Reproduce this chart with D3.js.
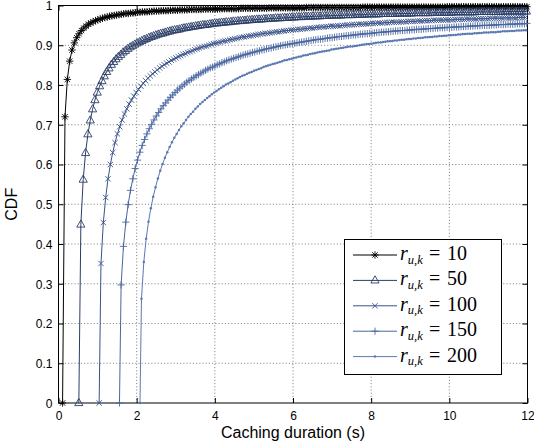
<!DOCTYPE html>
<html>
<head>
<meta charset="utf-8">
<script src="https://cdn.jsdelivr.net/npm/d3@7"></script>
<style>
  html, body { margin: 0; padding: 0; background: #ffffff; }
  svg { display: block; }
</style>
</head>
<body>
<svg id="chart" width="534" height="446"></svg>
<script>
// ---------------- data ----------------
const rValues = [10, 50, 100, 150, 200];
const seriesLabels = ["10", "50", "100", "150", "200"];
// caching duration where each CDF leaves 0 (s)
const startTimes = [0.104, 0.52, 1.04, 1.56, 2.085];
// time of the first plotted sample after the start, and the sampling step (s)
const firstSampleTimes = [0.166, 0.572, 1.087, 1.602, 2.123];
const sampleStep = 0.06;

const cdf10 = [
0.720,0.814,0.860,0.888,0.906,0.919,0.929,0.937,0.943,0.948,
0.953,0.956,0.959,0.962,0.964,0.966,0.968,0.970,0.971,0.973,
0.974,0.975,0.976,0.977,0.978,0.979,0.980,0.980,0.981,0.981,
0.982,0.983,0.983,0.984,0.984,0.984,0.985,0.985,0.986,0.986,
0.986,0.987,0.987,0.987,0.987,0.988,0.988,0.988,0.988,0.989,
0.989,0.989,0.989,0.990,0.990,0.990,0.990,0.990,0.990,0.991,
0.991,0.991,0.991,0.991,0.991,0.991,0.992,0.992,0.992,0.992,
0.992,0.992,0.992,0.992,0.992,0.993,0.993,0.993,0.993,0.993,
0.993,0.993,0.993,0.993,0.993,0.993,0.993,0.994,0.994,0.994,
0.994,0.994,0.994,0.994,0.994,0.994,0.994,0.994,0.994,0.994,
0.994,0.994,0.994,0.995,0.995,0.995,0.995,0.995,0.995,0.995,
0.995,0.995,0.995,0.995,0.995,0.995,0.995,0.995,0.995,0.995,
0.995,0.995,0.995,0.995,0.995,0.995,0.995,0.996,0.996,0.996,
0.996,0.996,0.996,0.996,0.996,0.996,0.996,0.996,0.996,0.996,
0.996,0.996,0.996,0.996,0.996,0.996,0.996,0.996,0.996,0.996,
0.996,0.996,0.996,0.996,0.996,0.996,0.996,0.996,0.996,0.996,
0.996,0.996,0.996,0.997,0.997,0.997,0.997,0.997,0.997,0.997,
0.997,0.997,0.997,0.997,0.997,0.997,0.997,0.997,0.997,0.997,
0.997,0.997,0.997,0.997,0.997,0.997,0.997,0.997,0.997,0.997,
0.997,0.997,0.997,0.997,0.997,0.997,0.997,0.997
];

const cdf50 = [
0.449,0.562,0.629,0.676,0.711,0.739,0.762,0.781,0.797,0.810,
0.822,0.833,0.842,0.851,0.858,0.865,0.871,0.876,0.882,0.886,
0.891,0.895,0.898,0.902,0.905,0.908,0.911,0.914,0.916,0.919,
0.921,0.923,0.925,0.927,0.929,0.930,0.932,0.934,0.935,0.937,
0.938,0.939,0.940,0.942,0.943,0.944,0.945,0.946,0.947,0.948,
0.949,0.950,0.951,0.951,0.952,0.953,0.954,0.955,0.955,0.956,
0.957,0.957,0.958,0.958,0.959,0.960,0.960,0.961,0.961,0.962,
0.962,0.963,0.963,0.964,0.964,0.965,0.965,0.965,0.966,0.966,
0.967,0.967,0.967,0.968,0.968,0.968,0.969,0.969,0.969,0.970,
0.970,0.970,0.971,0.971,0.971,0.972,0.972,0.972,0.972,0.973,
0.973,0.973,0.973,0.974,0.974,0.974,0.974,0.975,0.975,0.975,
0.975,0.975,0.976,0.976,0.976,0.976,0.976,0.977,0.977,0.977,
0.977,0.977,0.978,0.978,0.978,0.978,0.978,0.978,0.979,0.979,
0.979,0.979,0.979,0.979,0.979,0.980,0.980,0.980,0.980,0.980,
0.980,0.980,0.981,0.981,0.981,0.981,0.981,0.981,0.981,0.981,
0.982,0.982,0.982,0.982,0.982,0.982,0.982,0.982,0.982,0.983,
0.983,0.983,0.983,0.983,0.983,0.983,0.983,0.983,0.983,0.984,
0.984,0.984,0.984,0.984,0.984,0.984,0.984,0.984,0.984,0.984,
0.985,0.985,0.985,0.985,0.985,0.985,0.985,0.985,0.985,0.985,
0.985
];

const cdf100 = [
0.351,0.454,0.517,0.564,0.600,0.630,0.655,0.677,0.695,0.712,
0.727,0.740,0.752,0.762,0.772,0.781,0.789,0.797,0.804,0.811,
0.817,0.823,0.828,0.833,0.838,0.843,0.847,0.851,0.855,0.858,
0.862,0.865,0.868,0.871,0.874,0.877,0.879,0.882,0.884,0.886,
0.889,0.891,0.893,0.895,0.897,0.898,0.900,0.902,0.904,0.905,
0.907,0.908,0.910,0.911,0.912,0.914,0.915,0.916,0.917,0.919,
0.920,0.921,0.922,0.923,0.924,0.925,0.926,0.927,0.928,0.929,
0.930,0.930,0.931,0.932,0.933,0.934,0.934,0.935,0.936,0.937,
0.937,0.938,0.939,0.939,0.940,0.940,0.941,0.942,0.942,0.943,
0.943,0.944,0.945,0.945,0.946,0.946,0.947,0.947,0.948,0.948,
0.948,0.949,0.949,0.950,0.950,0.951,0.951,0.952,0.952,0.952,
0.953,0.953,0.953,0.954,0.954,0.955,0.955,0.955,0.956,0.956,
0.956,0.957,0.957,0.957,0.958,0.958,0.958,0.958,0.959,0.959,
0.959,0.960,0.960,0.960,0.960,0.961,0.961,0.961,0.962,0.962,
0.962,0.962,0.963,0.963,0.963,0.963,0.963,0.964,0.964,0.964,
0.964,0.965,0.965,0.965,0.965,0.965,0.966,0.966,0.966,0.966,
0.966,0.967,0.967,0.967,0.967,0.967,0.968,0.968,0.968,0.968,
0.968,0.968,0.969,0.969,0.969,0.969,0.969,0.969,0.970,0.970,
0.970,0.970
];

const cdf150 = [
0.297,0.394,0.455,0.499,0.535,0.564,0.590,0.611,0.631,0.648,
0.663,0.677,0.690,0.701,0.712,0.722,0.731,0.740,0.748,0.755,
0.762,0.769,0.775,0.781,0.787,0.792,0.797,0.802,0.807,0.811,
0.815,0.819,0.823,0.826,0.830,0.833,0.837,0.840,0.843,0.845,
0.848,0.851,0.853,0.856,0.858,0.861,0.863,0.865,0.867,0.869,
0.871,0.873,0.875,0.877,0.878,0.880,0.882,0.883,0.885,0.886,
0.888,0.889,0.891,0.892,0.893,0.895,0.896,0.897,0.899,0.900,
0.901,0.902,0.903,0.904,0.905,0.906,0.907,0.908,0.909,0.910,
0.911,0.912,0.913,0.914,0.915,0.915,0.916,0.917,0.918,0.919,
0.919,0.920,0.921,0.922,0.922,0.923,0.924,0.924,0.925,0.926,
0.926,0.927,0.928,0.928,0.929,0.929,0.930,0.930,0.931,0.932,
0.932,0.933,0.933,0.934,0.934,0.935,0.935,0.936,0.936,0.937,
0.937,0.937,0.938,0.938,0.939,0.939,0.940,0.940,0.940,0.941,
0.941,0.942,0.942,0.942,0.943,0.943,0.944,0.944,0.944,0.945,
0.945,0.945,0.946,0.946,0.946,0.947,0.947,0.947,0.948,0.948,
0.948,0.949,0.949,0.949,0.950,0.950,0.950,0.950,0.951,0.951,
0.951,0.952,0.952,0.952,0.952,0.953,0.953,0.953,0.953,0.954,
0.954,0.954,0.954,0.955
];

const cdf200 = [
0.262,0.355,0.413,0.456,0.490,0.519,0.543,0.565,0.584,0.601,
0.617,0.631,0.644,0.656,0.667,0.677,0.687,0.696,0.704,0.712,
0.720,0.727,0.733,0.740,0.746,0.752,0.757,0.762,0.767,0.772,
0.777,0.781,0.785,0.789,0.793,0.797,0.801,0.804,0.807,0.811,
0.814,0.817,0.820,0.823,0.825,0.828,0.831,0.833,0.836,0.838,
0.840,0.842,0.845,0.847,0.849,0.851,0.853,0.854,0.856,0.858,
0.860,0.862,0.863,0.865,0.866,0.868,0.869,0.871,0.872,0.874,
0.875,0.876,0.878,0.879,0.880,0.882,0.883,0.884,0.885,0.886,
0.887,0.889,0.890,0.891,0.892,0.893,0.894,0.895,0.896,0.897,
0.897,0.898,0.899,0.900,0.901,0.902,0.903,0.903,0.904,0.905,
0.906,0.907,0.907,0.908,0.909,0.910,0.910,0.911,0.912,0.912,
0.913,0.914,0.914,0.915,0.916,0.916,0.917,0.917,0.918,0.918,
0.919,0.920,0.920,0.921,0.921,0.922,0.922,0.923,0.923,0.924,
0.924,0.925,0.925,0.926,0.926,0.927,0.927,0.928,0.928,0.929,
0.929,0.929,0.930,0.930,0.931,0.931,0.932,0.932,0.932,0.933,
0.933,0.933,0.934,0.934,0.935,0.935,0.935,0.936,0.936,0.936,
0.937,0.937,0.937,0.938,0.938
];

const xTicks = [0, 2, 4, 6, 8, 10, 12];
const xTickLabels = ["0", "2", "4", "6", "8", "10", "12"];
const yTicks = [0, 0.1, 0.2, 0.3, 0.4, 0.5, 0.6, 0.7, 0.8, 0.9, 1];
const yTickLabels = ["0", "0.1", "0.2", "0.3", "0.4", "0.5", "0.6", "0.7", "0.8", "0.9", "1"];
const xTitle = "Caching duration (s)";
const yTitle = "CDF";

// ---------------- styling ----------------
const cdfSeries = [cdf10, cdf50, cdf100, cdf150, cdf200];
const seriesColors = ["#000000", "#2b3d66", "#3a528a", "#4a66a0", "#5b79b2"];
const markerKinds = ["star", "triangle", "cross", "plus", "dot"];

const svg = d3.select("#chart");
const W = 534, H = 446;
const plot = { left: 58.5, right: 527.5, top: 5.5, bottom: 403 };
svg.append("rect").attr("width", W).attr("height", H).attr("fill", "#fff");

const x = d3.scaleLinear().domain([0, 12]).range([plot.left, plot.right]);
const y = d3.scaleLinear().domain([0, 1]).range([plot.bottom, plot.top]);

const sansFont = "'Liberation Sans', Arial, Helvetica, sans-serif";
const serifFont = "'Liberation Serif', 'Times New Roman', serif";

// grid
const grid = svg.append("g").attr("class", "grid")
  .attr("stroke", "#6b6b6b").attr("stroke-width", 0.9).attr("stroke-dasharray", "1,2.2");
grid.selectAll("line.gx").data(xTicks.filter(t => t > 0 && t < 12)).join("line")
  .attr("x1", d => x(d)).attr("x2", d => x(d)).attr("y1", plot.top).attr("y2", plot.bottom);
grid.selectAll("line.gy").data(yTicks.filter(t => t > 0 && t < 1)).join("line")
  .attr("y1", d => y(d)).attr("y2", d => y(d)).attr("x1", plot.left).attr("x2", plot.right);

// axes (ticks pointing inwards, mirrored on top/right)
function styleAxis(g) {
  g.select(".domain").remove();
  g.selectAll(".tick line").attr("stroke", "#000").attr("stroke-width", 1);
  g.selectAll(".tick text").attr("fill", "#000").attr("font-family", sansFont).attr("font-size", 12);
}
const xLab = d => xTickLabels[xTicks.indexOf(d)];
const yLab = d => yTickLabels[yTicks.indexOf(d)];

svg.append("g").attr("transform", `translate(0,${plot.bottom})`)
  .call(d3.axisBottom(x).tickValues(xTicks).tickFormat(xLab).tickSize(-5).tickPadding(8))
  .call(styleAxis);
svg.append("g").attr("transform", `translate(0,${plot.top})`)
  .call(d3.axisTop(x).tickValues(xTicks).tickFormat("").tickSize(-5))
  .call(styleAxis);
svg.append("g").attr("transform", `translate(${plot.left},0)`)
  .call(d3.axisLeft(y).tickValues(yTicks).tickFormat(yLab).tickSize(-5).tickPadding(6))
  .call(styleAxis)
  .call(g => g.selectAll(".tick text").attr("dy", "0.37em"));
svg.append("g").attr("transform", `translate(${plot.right},0)`)
  .call(d3.axisRight(y).tickValues(yTicks).tickFormat("").tickSize(-5))
  .call(styleAxis);

// frame
svg.append("rect")
  .attr("x", plot.left).attr("y", plot.top)
  .attr("width", plot.right - plot.left).attr("height", plot.bottom - plot.top)
  .attr("fill", "none").attr("stroke", "#000").attr("stroke-width", 1);

// axis titles
svg.append("text").attr("x", (plot.left + plot.right) / 2).attr("y", 437.5)
  .attr("text-anchor", "middle").attr("font-family", sansFont).attr("font-size", 16)
  .text(xTitle);
svg.append("text").attr("transform", `translate(17,${(plot.top + plot.bottom) / 2}) rotate(-90)`)
  .attr("text-anchor", "middle").attr("font-family", sansFont).attr("font-size", 16)
  .text(yTitle);

// marker shapes
function markerPath(kind) {
  switch (kind) {
    case "star": return "M-3.7,0H3.7M0,-3.7V3.7M-2.7,-2.7L2.7,2.7M-2.7,2.7L2.7,-2.7";
    case "triangle": return "M0,-4.6L4.1,2.6L-4.1,2.6Z";
    case "cross": return "M-2.7,-2.7L2.7,2.7M-2.7,2.7L2.7,-2.7";
    case "plus": return "M-3.6,0H3.6M0,-3.6V3.6";
    default: return "";
  }
}
function drawMarkers(g, pts, kind, color) {
  if (kind === "dot") {
    g.selectAll("circle").data(pts).join("circle")
      .attr("cx", d => x(d[0])).attr("cy", d => y(d[1])).attr("r", 1.25)
      .attr("fill", color).attr("stroke", "none");
  } else {
    g.selectAll("path").data(pts).join("path")
      .attr("transform", d => `translate(${x(d[0])},${y(d[1])})`)
      .attr("d", markerPath(kind))
      .attr("fill", "none").attr("stroke", color).attr("stroke-width", 0.9);
  }
}

const line = d3.line().x(d => x(d[0])).y(d => y(d[1]));

const seriesData = rValues.map((r, i) => {
  const pts = [[startTimes[i], 0]].concat(
    cdfSeries[i].map((v, k) => [firstSampleTimes[i] + k * sampleStep, v]));
  return { r, pts, color: seriesColors[i], kind: markerKinds[i], label: seriesLabels[i] };
});

seriesData.forEach(s => {
  const g = svg.append("g").attr("class", "series");
  g.append("path").datum(s.pts).attr("d", line)
    .attr("fill", "none").attr("stroke", s.color).attr("stroke-width", 1);
  drawMarkers(g.append("g"), s.pts, s.kind, s.color);
});

// legend
const leg = { x: 344.5, y: 239.5, w: 157, h: 135 };
const lg = svg.append("g");
lg.append("rect").attr("x", leg.x).attr("y", leg.y).attr("width", leg.w).attr("height", leg.h)
  .attr("fill", "#fff").attr("stroke", "#000").attr("stroke-width", 1);
const rowY = i => 255 + i * 25.4;
seriesData.forEach((s, i) => {
  const yy = rowY(i);
  const row = lg.append("g");
  row.append("line").attr("x1", 353).attr("x2", 397).attr("y1", yy).attr("y2", yy)
    .attr("stroke", s.color).attr("stroke-width", 1);
  const mg = row.append("g").attr("transform", `translate(375,${yy})`);
  if (s.kind === "dot") {
    mg.append("circle").attr("r", 1.25).attr("fill", s.color);
  } else {
    mg.append("path").attr("d", markerPath(s.kind)).attr("fill", "none")
      .attr("stroke", s.color).attr("stroke-width", 0.9);
  }
  const t = row.append("text").attr("x", 400).attr("y", yy + 5)
    .attr("font-family", serifFont).attr("font-size", 20).attr("fill", "#000");
  t.append("tspan").attr("font-style", "italic").text("r");
  t.append("tspan").attr("font-style", "italic").attr("font-size", 12.5).attr("dy", 3.5).text("u,k");
  t.append("tspan").attr("x", 429).attr("dy", -3.5).text("=");
  t.append("tspan").attr("x", 447).text(s.label);
});
</script>
</body>
</html>
